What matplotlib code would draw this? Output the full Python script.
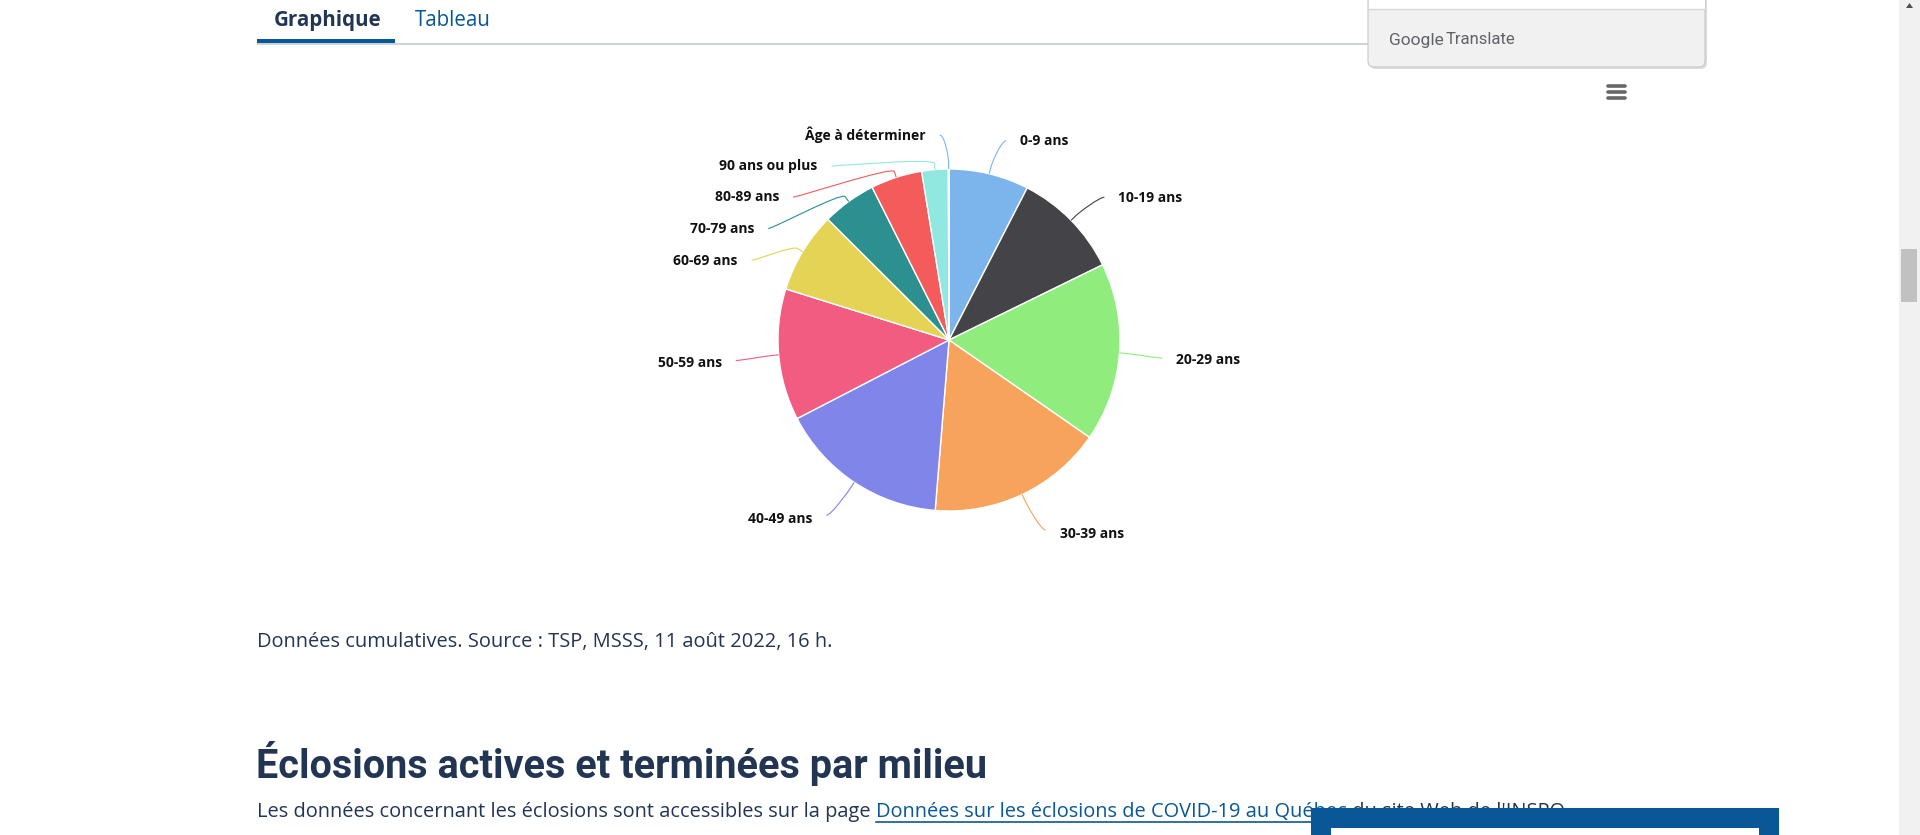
import numpy as np
import matplotlib.pyplot as plt
from matplotlib.path import Path
from matplotlib.patches import PathPatch, FancyBboxPatch, Rectangle

# cas cumulatifs par groupe d'âge (part en %)
tranches = ['0-9 ans', '10-19 ans', '20-29 ans', '30-39 ans', '40-49 ans',
            '50-59 ans', '60-69 ans', '70-79 ans', '80-89 ans',
            '90 ans ou plus', 'Âge à déterminer']
parts = [7.56, 10.19, 16.89, 16.64, 16.11, 12.42, 7.64, 5.11, 4.86, 2.50, 0.06]
couleurs = ['#7cb5ec', '#434348', '#90ed7d', '#f7a35c', '#8085e9',
            '#f15c80', '#e4d354', '#2b908f', '#f45b5b', '#91e8e1', '#7cb5ec']

source = 'Données cumulatives. Source : TSP, MSSS, 11 août 2022, 16 h.'
titre = 'Éclosions actives et terminées par milieu'

TEXTE = '#223654'
BLEU = '#095797'

W, H = 1920, 835
fig = plt.figure(figsize=(W / 100, H / 100), dpi=100)
ax = fig.add_axes([0, 0, 1, 1])

# --- le graphique en secteurs ---
cx, cy, r = 949, 340, 171
wedges, _ = ax.pie(parts, colors=couleurs, center=(cx, cy), radius=r,
                   startangle=-90, counterclock=True,
                   wedgeprops=dict(edgecolor='white', linewidth=1.0))
ax.set_xlim(0, W)
ax.set_ylim(H, 0)
ax.set_aspect('auto')
ax.axis('off')

# position des étiquettes (à la Highcharts)
R = 205
labels = []
for w, nom, coul in zip(wedges, tranches, couleurs):
    th = np.deg2rad((w.theta1 + w.theta2) / 2)
    a = (np.rad2deg(th) + 90) % 360
    gauche = a >= 180
    y = cy + R * np.sin(th)
    labels.append(dict(nom=nom, coul=coul, th=th, gauche=gauche, y=y,
                       dec=4.5 * (1 + np.sin(th))))

for cote in (True, False):
    grp = sorted([l for l in labels if l['gauche'] == cote], key=lambda l: l['y'])
    for prev, cur in zip(grp, grp[1:]):
        if cur['y'] - prev['y'] < 31:
            cur['y'] = prev['y'] + 31

for l in labels:
    th = l['th']
    s = -1 if l['gauche'] else 1
    dy = np.clip(l['y'] - cy, -R, R)
    lx = cx + s * (np.sqrt(R ** 2 - dy ** 2) + 9)
    ly = l['y'] + 0.55 * l['dec']
    tx, ty = cx + r * np.cos(th), cy + r * np.sin(th)
    bx, by = cx + (r + 6) * np.cos(th), cy + (r + 6) * np.sin(th)
    verts = [(lx, ly), (lx - s * 5, ly), (2 * bx - tx, 2 * by - ty), (bx, by), (tx, ty)]
    codes = [Path.MOVETO, Path.CURVE4, Path.CURVE4, Path.CURVE4, Path.LINETO]
    ax.add_patch(PathPatch(Path(verts, codes), fill=False, edgecolor=l['coul'], lw=0.8))
    ax.text(lx + s * 14, l['y'] + l['dec'], l['nom'], ha='right' if l['gauche'] else 'left',
            va='center', fontsize=10, fontweight='bold', family='Open Sans',
            color='#111111')

# --- onglets ---
ax.text(274, 20.5, 'Graphique', fontsize=14.8, fontweight='bold', family='Open Sans',
        color=TEXTE, va='center')
ax.text(415, 20.5, 'Tableau', fontsize=14.8, family='Open Sans', color=BLEU, va='center')
ax.plot([257, 1700], [44, 44], color='#c5cad2', lw=1.2, solid_capstyle='butt')
ax.add_patch(Rectangle((257, 38.5), 138, 4.5, color=BLEU, lw=0))

# --- texte de la page ---
ax.text(257, 642, source, fontsize=14.4, family='Open Sans', color=TEXTE, va='center')
ax.text(256, 763, titre, fontsize=28.5, fontweight='bold', family='Roboto',
        color=TEXTE, va='center')

rend = fig.canvas.get_renderer()
inv = ax.transData.inverted()
t1 = ax.text(257, 812, 'Les données concernant les éclosions sont accessibles sur la page ',
             fontsize=14.4, family='Open Sans', color=TEXTE, va='center')
x1 = inv.transform(t1.get_window_extent(rend).get_points())[1, 0]
t2 = ax.text(x1, 812, 'Données sur les éclosions de COVID-19 au Québec',
             fontsize=14.4, family='Open Sans', color=BLEU, va='center')
x2 = inv.transform(t2.get_window_extent(rend).get_points())[1, 0]
ax.plot([x1, x2], [822, 822], color=BLEU, lw=1.2)
ax.text(x2, 812, " du site Web de l'INSPQ.", fontsize=14.4, family='Open Sans',
        color=TEXTE, va='center')

# encadré bleu en bas à droite
ax.add_patch(Rectangle((1311, 808), 468, 40, color=BLEU, lw=0, zorder=5))
ax.add_patch(Rectangle((1331, 828), 428, 20, color='white', lw=0, zorder=6))

# --- fenêtre Google Translate ---
ax.add_patch(FancyBboxPatch((1370, -10), 337, 79, boxstyle='round,pad=0,rounding_size=6',
                            facecolor='#bbbbbb', edgecolor='none', alpha=0.5, zorder=7))
ax.add_patch(FancyBboxPatch((1368, -10), 337, 77, boxstyle='round,pad=0,rounding_size=6',
                            facecolor='#f1f1f1', edgecolor='#c8c8c8', lw=0.8, zorder=8))
ax.add_patch(Rectangle((1368.5, -10), 336, 18.5, facecolor='white', edgecolor='none', zorder=9))
ax.plot([1368.5, 1704.5], [8.5, 8.5], color='#d8d8d8', lw=1, zorder=10)
ax.text(1389, 40, 'Google', fontsize=12.5, family='Roboto', color='#5f6368',
        va='center', zorder=10)
ax.text(1446, 40, 'Translate', fontsize=12, family='Roboto', color='#5f6368',
        va='center', zorder=10)

# menu
for yy in (86, 92, 98):
    ax.plot([1608, 1625], [yy, yy], color='#666666', lw=2.6, solid_capstyle='round')

# barre de défilement
ax.add_patch(Rectangle((1899, 0), 21, H, color='#f1f1f1', lw=0))
ax.add_patch(Rectangle((1901, 249), 16, 53, color='#c1c1c1', lw=0))
ax.add_patch(plt.Polygon([[1906, 8], [1913, 8], [1909.5, 3]], color='#505050', lw=0))

fig.savefig('out.png', dpi=100, facecolor='white')
